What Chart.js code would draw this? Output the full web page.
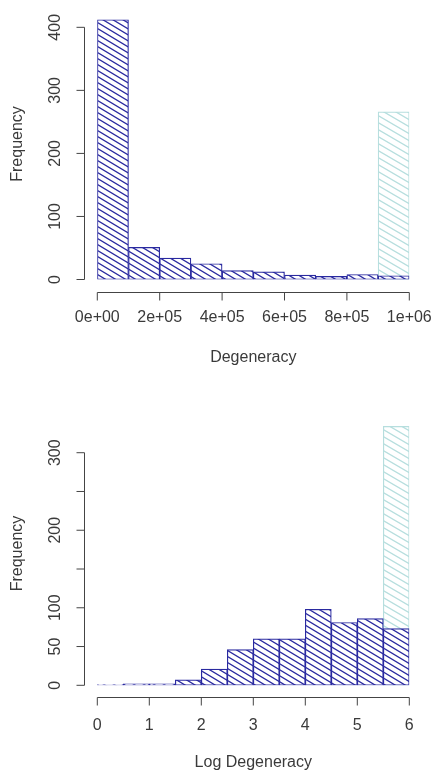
<!DOCTYPE html>
<html>
<head>
<meta charset="utf-8">
<script src="https://cdn.jsdelivr.net/npm/chart.js@4.4.0/dist/chart.umd.min.js"></script>
<style>
  html, body { margin: 0; padding: 0; background: #fff; }
  #wrap { position: relative; width: 436px; height: 776px; }
  canvas { position: absolute; left: 0; }
</style>
</head>
<body>
<div id="wrap">
  <canvas id="rawChart" width="436" height="388" style="top:0"></canvas>
  <canvas id="logChart" width="436" height="388" style="top:388px"></canvas>
</div>
<script>
// histogram of raw degeneracy (bin centres, width 1e5)
const rawBins = [50000, 150000, 250000, 350000, 450000, 550000, 650000, 750000, 850000, 950000];
const rawCounts = [412, 51, 34, 25, 14, 12, 7, 5, 8, 6];
const rawHighlightBins = [950000];
const rawHighlightCounts = [266];
const rawXTicks = [0, 200000, 400000, 600000, 800000, 1000000];
const rawXLabels = ['0e+00', '2e+05', '4e+05', '6e+05', '8e+05', '1e+06'];
const rawYTicks = [0, 100, 200, 300, 400];
const rawYLabels = ['0', '100', '200', '300', '400'];

// histogram of log degeneracy (bin centres, width 0.5)
const logBins = [0.25, 0.75, 1.25, 1.75, 2.25, 2.75, 3.25, 3.75, 4.25, 4.75, 5.25, 5.75];
const logCounts = [1, 2, 2, 7, 21, 46, 60, 60, 98, 81, 86, 73];
const logHighlightBins = [5.75];
const logHighlightCounts = [334];
const logXTicks = [0, 1, 2, 3, 4, 5, 6];
const logXLabels = ['0', '1', '2', '3', '4', '5', '6'];
const logYTicks = [0, 50, 100, 150, 200, 250, 300];
const logYLabels = ['0', '50', '100', '', '200', '', '300'];

const DARK = '#2a2aa0';
const LIGHT = '#b6dede';
const TEXT = '#3a3a3a';
const FONT = 'Liberation Sans, Arial, sans-serif';

function hatch(color, w, h, lw) {
  const c = document.createElement('canvas');
  c.width = w; c.height = h;
  const g = c.getContext('2d');
  g.fillStyle = '#fff';
  g.fillRect(0, 0, w, h);
  g.strokeStyle = color;
  g.lineWidth = lw;
  g.beginPath();
  for (let k = -1; k <= 1; k++) {
    g.moveTo(k * w - w, -h);
    g.lineTo(k * w + 2 * w, 2 * h);
  }
  g.stroke();
  return g.createPattern(c, 'repeat');
}

// R style detached axes
const rAxes = {
  id: 'rAxes',
  afterDraw(chart, args, opts) {
    const { ctx, chartArea, scales: { x, y } } = chart;
    const yLine = Math.round(chartArea.left - opts.yGap) + 0.5;
    const xLine = Math.round(chartArea.bottom + opts.xGap) + 0.5;
    const yp = y.ticks.map(t => y.getPixelForValue(t.value));
    const xp = x.ticks.map(t => x.getPixelForValue(t.value));
    ctx.save();
    ctx.strokeStyle = '#444';
    ctx.lineWidth = 1;
    ctx.beginPath();
    ctx.moveTo(yLine, yp[0]);
    ctx.lineTo(yLine, yp[yp.length - 1]);
    yp.forEach(p => { ctx.moveTo(yLine, p); ctx.lineTo(yLine - 8, p); });
    ctx.moveTo(xp[0], xLine);
    ctx.lineTo(xp[xp.length - 1], xLine);
    xp.forEach(p => { ctx.moveTo(p, xLine); ctx.lineTo(p, xLine + 8); });
    ctx.stroke();
    ctx.restore();
  }
};

function makeHist(id, cfg) {
  const darkFill = hatch(DARK, 10, 6, 1.3);
  const lightFill = hatch(LIGHT, 12, 7, 1.3);
  const toPoints = (xs, ys) => xs.map((x, i) => ({ x, y: ys[i] }));

  return new Chart(document.getElementById(id), {
    type: 'bar',
    data: {
      datasets: [
        {
          data: toPoints(cfg.bins, cfg.counts),
          backgroundColor: darkFill,
          borderColor: DARK,
          borderWidth: 1.2,
          borderSkipped: false,
          grouped: false,
          barPercentage: 1,
          categoryPercentage: 1,
          order: 0,
        },
        {
          data: toPoints(cfg.hiBins, cfg.hiCounts),
          backgroundColor: lightFill,
          borderColor: LIGHT,
          borderWidth: 1.2,
          borderSkipped: false,
          grouped: false,
          barPercentage: 1,
          categoryPercentage: 1,
          order: 1,
        },
      ],
    },
    options: {
      responsive: false,
      animation: false,
      events: [],
      layout: { padding: { top: cfg.padTop, right: 26.7, left: 0, bottom: 0 } },
      plugins: {
        legend: { display: false },
        tooltip: { enabled: false },
        rAxes: { yGap: 13.3, xGap: cfg.xGap },
      },
      scales: {
        x: {
          type: 'linear',
          min: cfg.xTicks[0],
          max: cfg.xTicks[cfg.xTicks.length - 1],
          offset: false,
          grid: { display: false, drawTicks: false },
          border: { display: false },
          afterBuildTicks: s => { s.ticks = cfg.xTicks.map(v => ({ value: v })); },
          afterFit: s => {
            s.height = cfg.xHeight;
            s.paddingLeft = 0;
            s.paddingRight = 0;
          },
          ticks: {
            autoSkip: false,
            maxRotation: 0,
            padding: cfg.xLabelPad,
            color: TEXT,
            font: { family: FONT, size: 16 },
            callback: (v, i) => cfg.xLabels[i],
          },
          title: {
            display: true,
            text: cfg.xTitle,
            color: TEXT,
            font: { family: FONT, size: 16 },
            padding: { top: 0, bottom: cfg.xTitlePad },
          },
        },
        y: {
          min: 0,
          max: cfg.yMax,
          grid: { display: false, drawTicks: false },
          border: { display: false },
          afterBuildTicks: s => { s.ticks = cfg.yTicks.map(v => ({ value: v })); },
          afterFit: s => {
            s.width = 97.3;
            s.paddingTop = 0;
            s.paddingBottom = 0;
          },
          ticks: {
            autoSkip: false,
            minRotation: 90,
            maxRotation: 90,
            crossAlign: 'center',
            padding: 28,
            color: TEXT,
            font: { family: FONT, size: 16 },
            callback: (v, i) => cfg.yLabels[i],
          },
          title: {
            display: true,
            text: 'Frequency',
            color: TEXT,
            font: { family: FONT, size: 16 },
            padding: { top: 8.4, bottom: 0 },
          },
        },
      },
    },
    plugins: [rAxes],
  });
}

makeHist('rawChart', {
  bins: rawBins, counts: rawCounts,
  hiBins: rawHighlightBins, hiCounts: rawHighlightCounts,
  xTicks: rawXTicks, xLabels: rawXLabels,
  yTicks: rawYTicks, yLabels: rawYLabels,
  yMax: 430, padTop: 8.4, xHeight: 108.5, xGap: 12.2,
  xLabelPad: 28.9, xTitle: 'Degeneracy', xTitlePad: 20.4,
});

makeHist('logChart', {
  bins: logBins, counts: logCounts,
  hiBins: logHighlightBins, hiCounts: logHighlightCounts,
  xTicks: logXTicks, xLabels: logXLabels,
  yTicks: logYTicks, yLabels: logYLabels,
  yMax: 340, padTop: 33.7, xHeight: 90.7, xGap: 12,
  xLabelPad: 31.1, xTitle: 'Log Degeneracy', xTitlePad: 3.4,
});
</script>
</body>
</html>
